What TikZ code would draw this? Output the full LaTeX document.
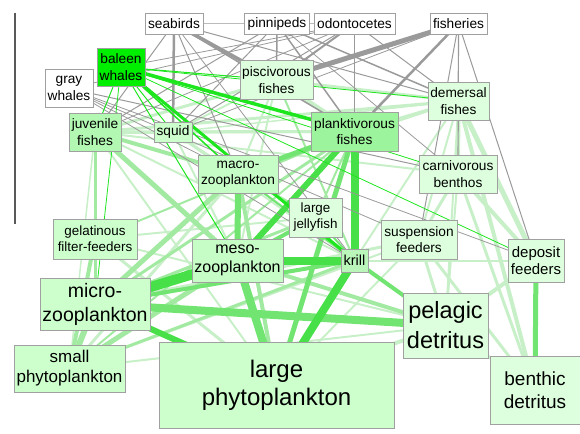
\documentclass[tikz,border=0pt]{standalone}
\usepackage{fontspec}
\setmainfont{Liberation Sans}
\definecolor{nborder}{HTML}{A0A0A0}
\definecolor{egray}{HTML}{9A9A9A}
\definecolor{elgray}{HTML}{BBBBBB}
\definecolor{eX}{HTML}{1EE61E}
\definecolor{eB}{HTML}{48E048}
\definecolor{eS}{HTML}{72E472}
\definecolor{eM}{HTML}{A2EAA2}
\definecolor{eL}{HTML}{C8F0C8}
\definecolor{fBal}{HTML}{00EE00}
\definecolor{fMid}{HTML}{9CF49C}
\definecolor{fJuv}{HTML}{B2F7B2}
\definecolor{fZoo}{HTML}{C6FCC6}
\definecolor{fPale}{HTML}{CCFFCC}
\definecolor{fLite}{HTML}{DEFFDE}
\definecolor{fKri}{HTML}{BAF6BA}
\pgfdeclarelayer{edges}
\pgfsetlayers{edges,main}
\tikzset{
  nd/.style={draw=nborder, line width=0.8pt, inner sep=0pt, align=center},
  box/.style 2 args={minimum width=#1, minimum height=#2},
  sz/.style 2 args={font=\fontsize{#1}{#2}\selectfont},
  ed/.style 2 args={draw=#1, line width=#2},
}
\begin{document}
\begin{tikzpicture}[x=1pt,y=-1pt]
\useasboundingbox (0,0) rectangle (580,433);
\coordinate (vtop) at (15,13);
\coordinate (vbot) at (15,224);
\draw[draw=black!65, line width=1.2pt] (vtop) -- (vbot);

% nodes
\node[nd, sz={13.7}{16.5}, box={58}{21}, fill=white] (seabirds) at (174,23.5) {seabirds};
\node[nd, sz={13.7}{16.5}, box={65}{21}, fill=white] (pinnipeds) at (277,23.5) {pinnipeds};
\node[nd, sz={13.7}{16.5}, box={81}{21}, fill=white] (odontocetes) at (354.5,23.5) {odontocetes};
\node[nd, sz={13.7}{16.5}, box={57}{21}, fill=white] (fisheries) at (458.5,23.5) {fisheries};
\node[nd, sz={13.7}{16.5}, box={48}{38}, fill=fBal] (baleen) at (121,67) {baleen\\whales};
\node[nd, sz={13.7}{16.5}, box={48}{38}, fill=white] (gray) at (69,88.5) {gray\\whales};
\node[nd, sz={13.7}{16.5}, box={73}{39}, fill=fLite] (pisc) at (276.5,80) {piscivorous\\fishes};
\node[nd, sz={13.7}{16.5}, box={61}{38}, fill=fLite] (demersal) at (458.5,101) {demersal\\fishes};
\node[nd, sz={13.7}{16.5}, box={52}{38}, fill=fJuv] (juv) at (95,132) {juvenile\\fishes};
\node[nd, sz={13.7}{16.5}, box={38}{20}, fill=fPale] (squid) at (173,132) {squid};
\node[nd, sz={13.7}{16.5}, box={87}{39}, fill=fMid] (plank) at (354.5,131.5) {planktivorous\\fishes};
\node[nd, sz={13.7}{16.5}, box={80}{38}, fill=fZoo] (macro) at (238,174) {macro-\\zooplankton};
\node[nd, sz={13.7}{16.5}, box={78}{38}, fill=fLite] (carn) at (458,174) {carnivorous\\benthos};
\node[nd, sz={13.4}{16}, box={53}{39}, fill=fLite] (jelly) at (315.5,217.5) {large\\jellyfish};
\node[nd, sz={13.4}{16}, box={84}{40}, fill=fPale] (gel) at (95,239) {gelatinous\\filter-feeders};
\node[nd, sz={13.7}{16.5}, box={76}{39}, fill=fLite] (susp) at (419,239.5) {suspension\\feeders};
\node[nd, sz={16}{19}, box={91}{43}, fill=fZoo] (meso) at (237.5,260.5) {meso-\\zooplankton};
\node[nd, sz={14.5}{17}, box={27}{23}, fill=fKri] (krill) at (354.5,260.5) {krill};
\node[nd, sz={15}{17.5}, box={56}{43}, fill=fLite] (deposit) at (536,260.5) {deposit\\feeders};
\node[nd, sz={19.5}{24}, box={110}{52}, fill=fPale] (micro) at (95,304) {micro-\\zooplankton};
\node[nd, sz={23.5}{30}, box={85}{65}, fill=fLite] (pelagic) at (445.5,325.5) {pelagic\\detritus};
\node[nd, sz={17}{20}, box={111}{47}, fill=fPale] (small) at (69.5,368.5) {small\\phytoplankton};
\node[nd, sz={24}{28}, box={235}{86}, fill=fPale] (large) at (276.5,385) {large\\phytoplankton};
\node[nd, sz={19}{23}, box={90}{68}, fill=fLite] (benthic) at (535,390) {benthic\\detritus};

\begin{pgfonlayer}{edges}
% light green edges
\foreach \a/\b/\w in {pisc/plank/4, pisc/juv/3, pisc/squid/2, pisc/demersal/3, pisc/macro/2, pisc/meso/2,
  demersal/plank/3, demersal/juv/3, demersal/carn/4, demersal/susp/2, demersal/deposit/5, demersal/benthic/4,
  demersal/pelagic/2, demersal/krill/2, demersal/macro/2, demersal/squid/1.5,
  juv/krill/2, juv/large/2, juv/small/1.5, juv/gel/2,
  squid/juv/3, squid/macro/2, squid/plank/3, squid/krill/2, squid/meso/2,
  plank/juv/3, macro/small/3, macro/pelagic/2,
  carn/deposit/4, carn/susp/3, carn/benthic/3, carn/pelagic/2, carn/juv/2,
  jelly/gel/2, gel/large/3, gel/pelagic/2,
  susp/pelagic/3, susp/small/2, susp/large/2, susp/micro/3, susp/benthic/3,
  deposit/pelagic/4, deposit/meso/2, deposit/krill/2, benthic/pelagic/3,
  pelagic/large/4, pelagic/small/2}
  {\draw[ed={eL}{\w}] (\a.center) -- (\b.center);}
% medium green edges
\foreach \a/\b/\w in {juv/macro/4, juv/meso/5, juv/micro/3, pisc/krill/2,
  plank/micro/3, plank/jelly/2, plank/small/2, plank/gel/2,
  macro/micro/5, macro/large/4, jelly/macro/3, jelly/micro/3,
  gel/small/4, gel/micro/3, meso/small/5, meso/pelagic/4, krill/small/3, micro/small/6}
  {\draw[ed={eM}{\w}] (\a.center) -- (\b.center);}
% strong green edges
\foreach \a/\b/\w in {plank/macro/5, plank/large/5, macro/meso/6, macro/krill/2, jelly/meso/4, jelly/krill/2,
  meso/large/8, krill/pelagic/4, krill/micro/4, micro/pelagic/8, deposit/benthic/5}
  {\draw[ed={eS}{\w}] (\a.center) -- (\b.center);}
% bright green edges
\foreach \a/\b/\w in {plank/krill/8, plank/meso/6, meso/micro/10, meso/krill/8, krill/large/8, micro/large/6}
  {\draw[ed={eB}{\w}] (\a.center) -- (\b.center);}
% gray edges (top predators)
\foreach \a/\b/\w in {seabirds/squid/2.5, seabirds/pisc/3.5, seabirds/plank/1.5, seabirds/juv/1, seabirds/demersal/1,
  seabirds/macro/1, seabirds/krill/0.8, pinnipeds/pisc/1.5, pinnipeds/squid/1, pinnipeds/juv/1, pinnipeds/plank/1.5,
  pinnipeds/demersal/1.5, pinnipeds/carn/0.8, odontocetes/baleen/0.8, odontocetes/squid/1, odontocetes/pisc/2,
  odontocetes/plank/1.5, odontocetes/demersal/1, odontocetes/juv/0.8, odontocetes/gray/0.8,
  fisheries/pisc/5, fisheries/plank/2.5, fisheries/demersal/1.2, fisheries/carn/1.2, fisheries/susp/1,
  fisheries/deposit/1, fisheries/squid/0.8, gray/carn/1, gray/deposit/0.8, gray/susp/0.8, gray/macro/0.8, gray/krill/0.8}
  {\draw[ed={egray}{\w}] (\a.center) -- (\b.center);}
\draw[ed={elgray}{0.8}] (seabirds.center) -- (pinnipeds.center);
\draw[ed={elgray}{0.8}] (pinnipeds.center) -- (odontocetes.center);
% baleen whale edges
\foreach \a/\b/\w in {baleen/plank/3.5, baleen/krill/3, baleen/macro/1.5, baleen/juv/1, baleen/squid/1,
  baleen/pisc/1, baleen/meso/1, baleen/micro/0.8, baleen/deposit/0.8, baleen/demersal/0.8, baleen/carn/0.8}
  {\draw[ed={eX}{\w}] (\a.center) -- (\b.center);}
\end{pgfonlayer}
\end{tikzpicture}
\end{document}
